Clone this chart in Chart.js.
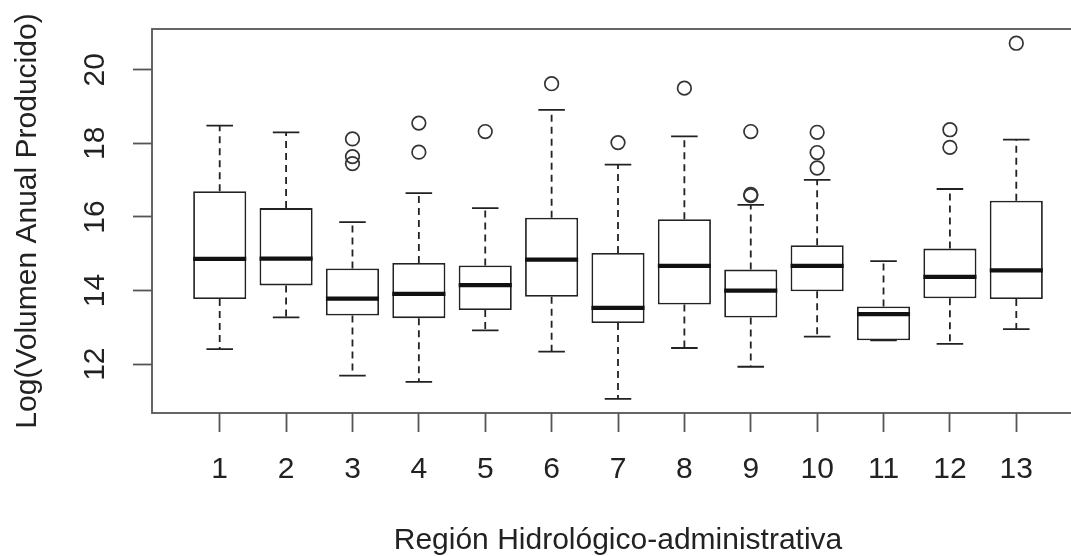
<!DOCTYPE html>
<html>
<head>
<meta charset="utf-8">
<script src="https://cdn.jsdelivr.net/npm/chart.js@4"></script>
<style>
  html, body { margin: 0; padding: 0; background: #fff; overflow: hidden; }
  #wrap { width: 1100px; height: 556px; }
</style>
</head>
<body>
<div id="wrap"><canvas id="boxChart" width="1100" height="556"></canvas></div>
<script>
// region numbers (x categories)
var regions = [1, 2, 3, 4, 5, 6, 7, 8, 9, 10, 11, 12, 13];
// five-number summaries
var lowerWhisker = [12.41, 13.27, 11.69, 11.52, 12.92, 12.34, 11.06, 12.44, 11.93, 12.75, 12.65, 12.55, 12.95];
var q1           = [13.77, 14.14, 13.32, 13.25, 13.47, 13.83, 13.12, 13.62, 13.27, 13.98, 12.65, 13.79, 13.77];
var median       = [14.86, 14.87, 13.78, 13.91, 14.15, 14.84, 13.53, 14.67, 14.00, 14.67, 13.36, 14.37, 14.55];
var q3           = [16.70, 16.24, 14.60, 14.75, 14.68, 15.98, 15.02, 15.94, 14.57, 15.23, 13.57, 15.14, 16.44];
var upperWhisker = [18.48, 18.30, 15.86, 16.65, 16.24, 18.91, 17.42, 18.19, 16.33, 17.01, 14.80, 16.76, 18.10];
// outliers per region
var outliers = [
    [], [], [18.12, 17.64, 17.45], [18.55, 17.76], [18.32], [19.62],
    [18.02], [19.50], [18.32, 16.61, 16.58], [18.30, 17.75, 17.33], [],
    [18.37, 17.89], [20.72]
];
var yTicks = [12, 14, 16, 18, 20];

var FONT = "'Liberation Sans', Arial, sans-serif";
var INK = '#222';

// axis range like R: data range plus 4% each side
var allVals = lowerWhisker.concat(upperWhisker);
outliers.forEach(function (o) { allVals = allVals.concat(o); });
var lo = Math.min.apply(null, allVals);
var hi = Math.max.apply(null, allVals);
var pad = (hi - lo) * 0.04;
var xPad = (regions.length) * 0.04;

var boxData = regions.map(function (r, i) { return { x: r, y: [q1[i], q3[i]] }; });
var outlierData = [];
regions.forEach(function (r, i) {
    outliers[i].forEach(function (v) { outlierData.push({ x: r, y: v }); });
});

var boxLines = {
    id: 'boxLines',
    afterDatasetsDraw: function (chart) {
        var ctx = chart.ctx;
        var area = chart.chartArea;
        var xs = chart.scales.x, ys = chart.scales.y;
        var meta = chart.getDatasetMeta(0);
        ctx.save();
        ctx.strokeStyle = INK;
        regions.forEach(function (r, i) {
            var cx = xs.getPixelForValue(r);
            var half = meta.data[i].width / 2;
            var cap = half / 2;
            // dashed whiskers
            ctx.lineWidth = 1.8;
            ctx.setLineDash([7, 5]);
            ctx.beginPath();
            ctx.moveTo(cx, ys.getPixelForValue(q3[i]));
            ctx.lineTo(cx, ys.getPixelForValue(upperWhisker[i]));
            ctx.moveTo(cx, ys.getPixelForValue(q1[i]));
            ctx.lineTo(cx, ys.getPixelForValue(lowerWhisker[i]));
            ctx.stroke();
            // staples
            ctx.setLineDash([]);
            ctx.beginPath();
            ctx.moveTo(cx - cap, ys.getPixelForValue(upperWhisker[i]));
            ctx.lineTo(cx + cap, ys.getPixelForValue(upperWhisker[i]));
            ctx.moveTo(cx - cap, ys.getPixelForValue(lowerWhisker[i]));
            ctx.lineTo(cx + cap, ys.getPixelForValue(lowerWhisker[i]));
            ctx.stroke();
            // median
            ctx.strokeStyle = '#111';
            ctx.lineWidth = 4.2;
            ctx.beginPath();
            ctx.moveTo(cx - half, ys.getPixelForValue(median[i]));
            ctx.lineTo(cx + half, ys.getPixelForValue(median[i]));
            ctx.stroke();
            ctx.strokeStyle = INK;
        });
        // plot frame
        ctx.strokeStyle = '#555';
        ctx.lineWidth = 1.8;
        ctx.strokeRect(area.left, area.top, area.right - area.left, area.bottom - area.top);
        ctx.restore();
    }
};

new Chart('boxChart', {
    type: 'bar',
    data: {
        datasets: [{
            type: 'bar',
            data: boxData,
            backgroundColor: '#ffffff',
            borderColor: INK,
            borderWidth: 1.8,
            borderSkipped: false,
            categoryPercentage: 1,
            barPercentage: 0.8,
            order: 2
        }, {
            type: 'scatter',
            data: outlierData,
            pointStyle: 'circle',
            pointRadius: 6.8,
            pointBorderWidth: 1.7,
            pointBorderColor: '#333',
            pointBackgroundColor: 'rgba(0,0,0,0)',
            order: 1
        }]
    },
    options: {
        responsive: false,
        animation: false,
        layout: { padding: { top: 29, right: 16, left: 0, bottom: 0 } },
        plugins: {
            legend: { display: false },
            tooltip: { enabled: false }
        },
        scales: {
            x: {
                type: 'linear',
                offset: false,
                min: regions[0] - 0.5 - xPad,
                max: regions[regions.length - 1] + 0.5 + xPad,
                afterBuildTicks: function (scale) {
                    scale.ticks = regions.map(function (v) { return { value: v }; });
                },
                afterFit: function (scale) {
                    scale.height = 143;
                    scale.paddingLeft = 0;
                    scale.paddingRight = 0;
                },
                border: { display: false },
                grid: {
                    drawOnChartArea: false,
                    drawTicks: true,
                    tickLength: 19,
                    tickColor: '#555',
                    tickWidth: 1.8,
                    offset: false
                },
                ticks: {
                    color: INK,
                    font: { family: FONT, size: 30 },
                    padding: 20,
                    maxRotation: 0,
                    autoSkip: false
                },
                title: {
                    display: true,
                    text: 'Región Hidrológico-administrativa',
                    color: INK,
                    font: { family: FONT, size: 30, lineHeight: 1 },
                    padding: { top: 0, bottom: 0 }
                }
            },
            y: {
                type: 'linear',
                min: lo - pad,
                max: hi + pad,
                afterBuildTicks: function (scale) {
                    scale.ticks = yTicks.map(function (v) { return { value: v }; });
                },
                afterFit: function (scale) {
                    scale.width = 152;
                    scale.paddingTop = 0;
                    scale.paddingBottom = 0;
                },
                border: { display: false },
                grid: {
                    drawOnChartArea: false,
                    drawTicks: true,
                    tickLength: 19,
                    tickColor: '#555',
                    tickWidth: 1.8
                },
                ticks: {
                    color: INK,
                    font: { family: FONT, size: 30 },
                    minRotation: 90,
                    maxRotation: 90,
                    crossAlign: 'center',
                    padding: 21
                },
                title: {
                    display: true,
                    text: 'Log(Volumen Anual Producido)',
                    color: INK,
                    font: { family: FONT, size: 30, lineHeight: 1.2 },
                    padding: { top: 10, bottom: 0 }
                }
            }
        }
    },
    plugins: [boxLines]
});
</script>
</body>
</html>
